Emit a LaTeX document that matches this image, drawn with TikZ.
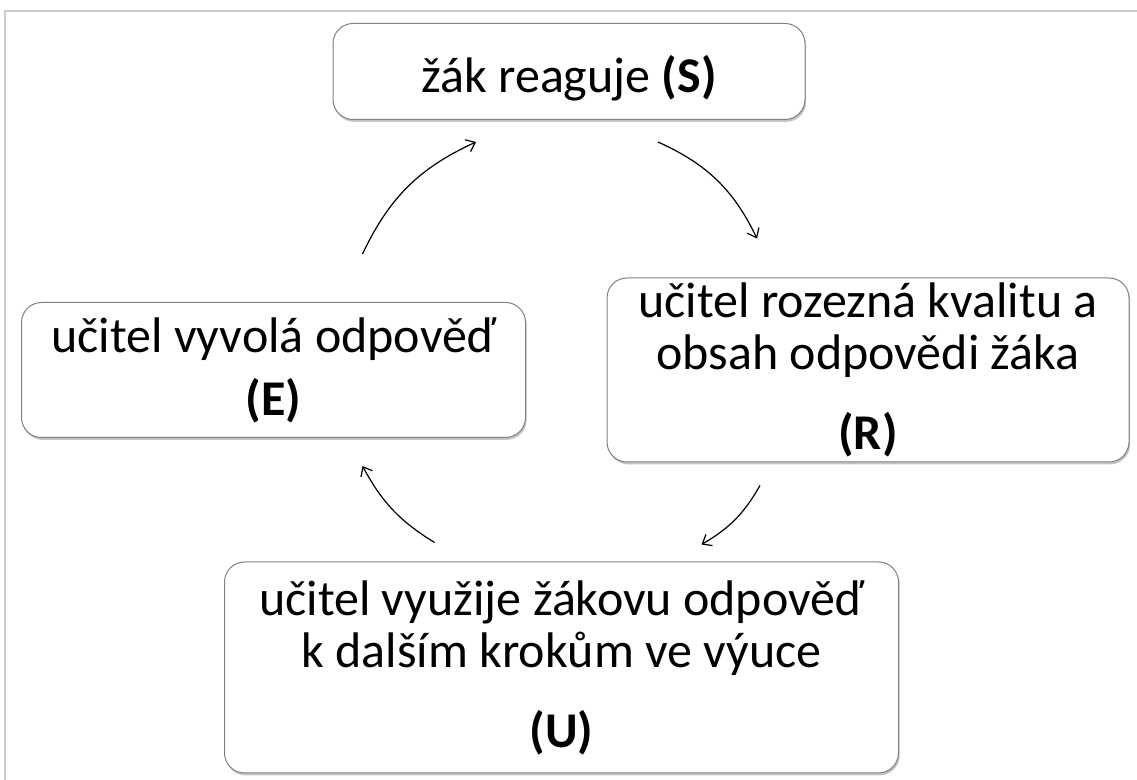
\documentclass[tikz,border=0pt]{standalone}
\usepackage{fontspec}
\setmainfont{Carlito}
\usetikzlibrary{positioning,shadows,arrows.meta}

\begin{document}
\begin{tikzpicture}[
  x=0.5pt,y=0.5pt,
  font=\fontsize{25}{26}\selectfont,
  frame/.style={draw=black!20,line width=1pt},
  stage/.style={draw=black!50,fill=white,rounded corners=10pt,align=center,inner sep=0pt,line width=0.5pt,
    drop shadow={shadow xshift=0.6pt,shadow yshift=-1.2pt,fill=black!45,opacity=0.5}},
  cyc/.style={-{Straight Barb[length=4pt,width=6.5pt]},line width=0.6pt}
]
\fill[white] (0,0) rectangle (1137,-780);
\useasboundingbox (0,0) rectangle (1137,-780);
\draw[frame] (5,-780) -- (5,-11) -- (1137,-11);
\node[stage,minimum width=236pt,minimum height=48pt,text height=26pt,text depth=5pt] (S) at (569,-71.5) {žák reaguje \textbf{(S)}};
\node[stage,minimum width=252pt,minimum height=67.5pt] (E) at (273.5,-370) {učitel vyvolá odpověď\\[5.5pt]\textbf{(E)}};
\node[stage,minimum width=261pt,minimum height=92pt] (R) at (868,-370) {učitel rozezná kvalitu a\\obsah odpovědi žáka\\[14pt]\textbf{(R)}};
\node[stage,minimum width=337pt,minimum height=105.5pt] (U) at (561.5,-667.5) {učitel využije žákovu odpověď\\k dalším krokům ve výuce\\[14pt]\textbf{(U)}};
\draw[cyc] ([shift={(89,48)}]E.north) to[bend left=20] ([shift={(-93,-22)}]S.south);
\draw[cyc] ([shift={(89,-22)}]S.south) to[bend left=20] ([shift={(-111,39)}]R.north);
\draw[cyc] ([shift={(-108,-23)}]R.south) to[bend left=15] ([shift={(140,17)}]U.north);
\draw[cyc] ([shift={(-127,19)}]U.north) to[bend left=15] ([shift={(89,-28)}]E.south);
\end{tikzpicture}
\end{document}
